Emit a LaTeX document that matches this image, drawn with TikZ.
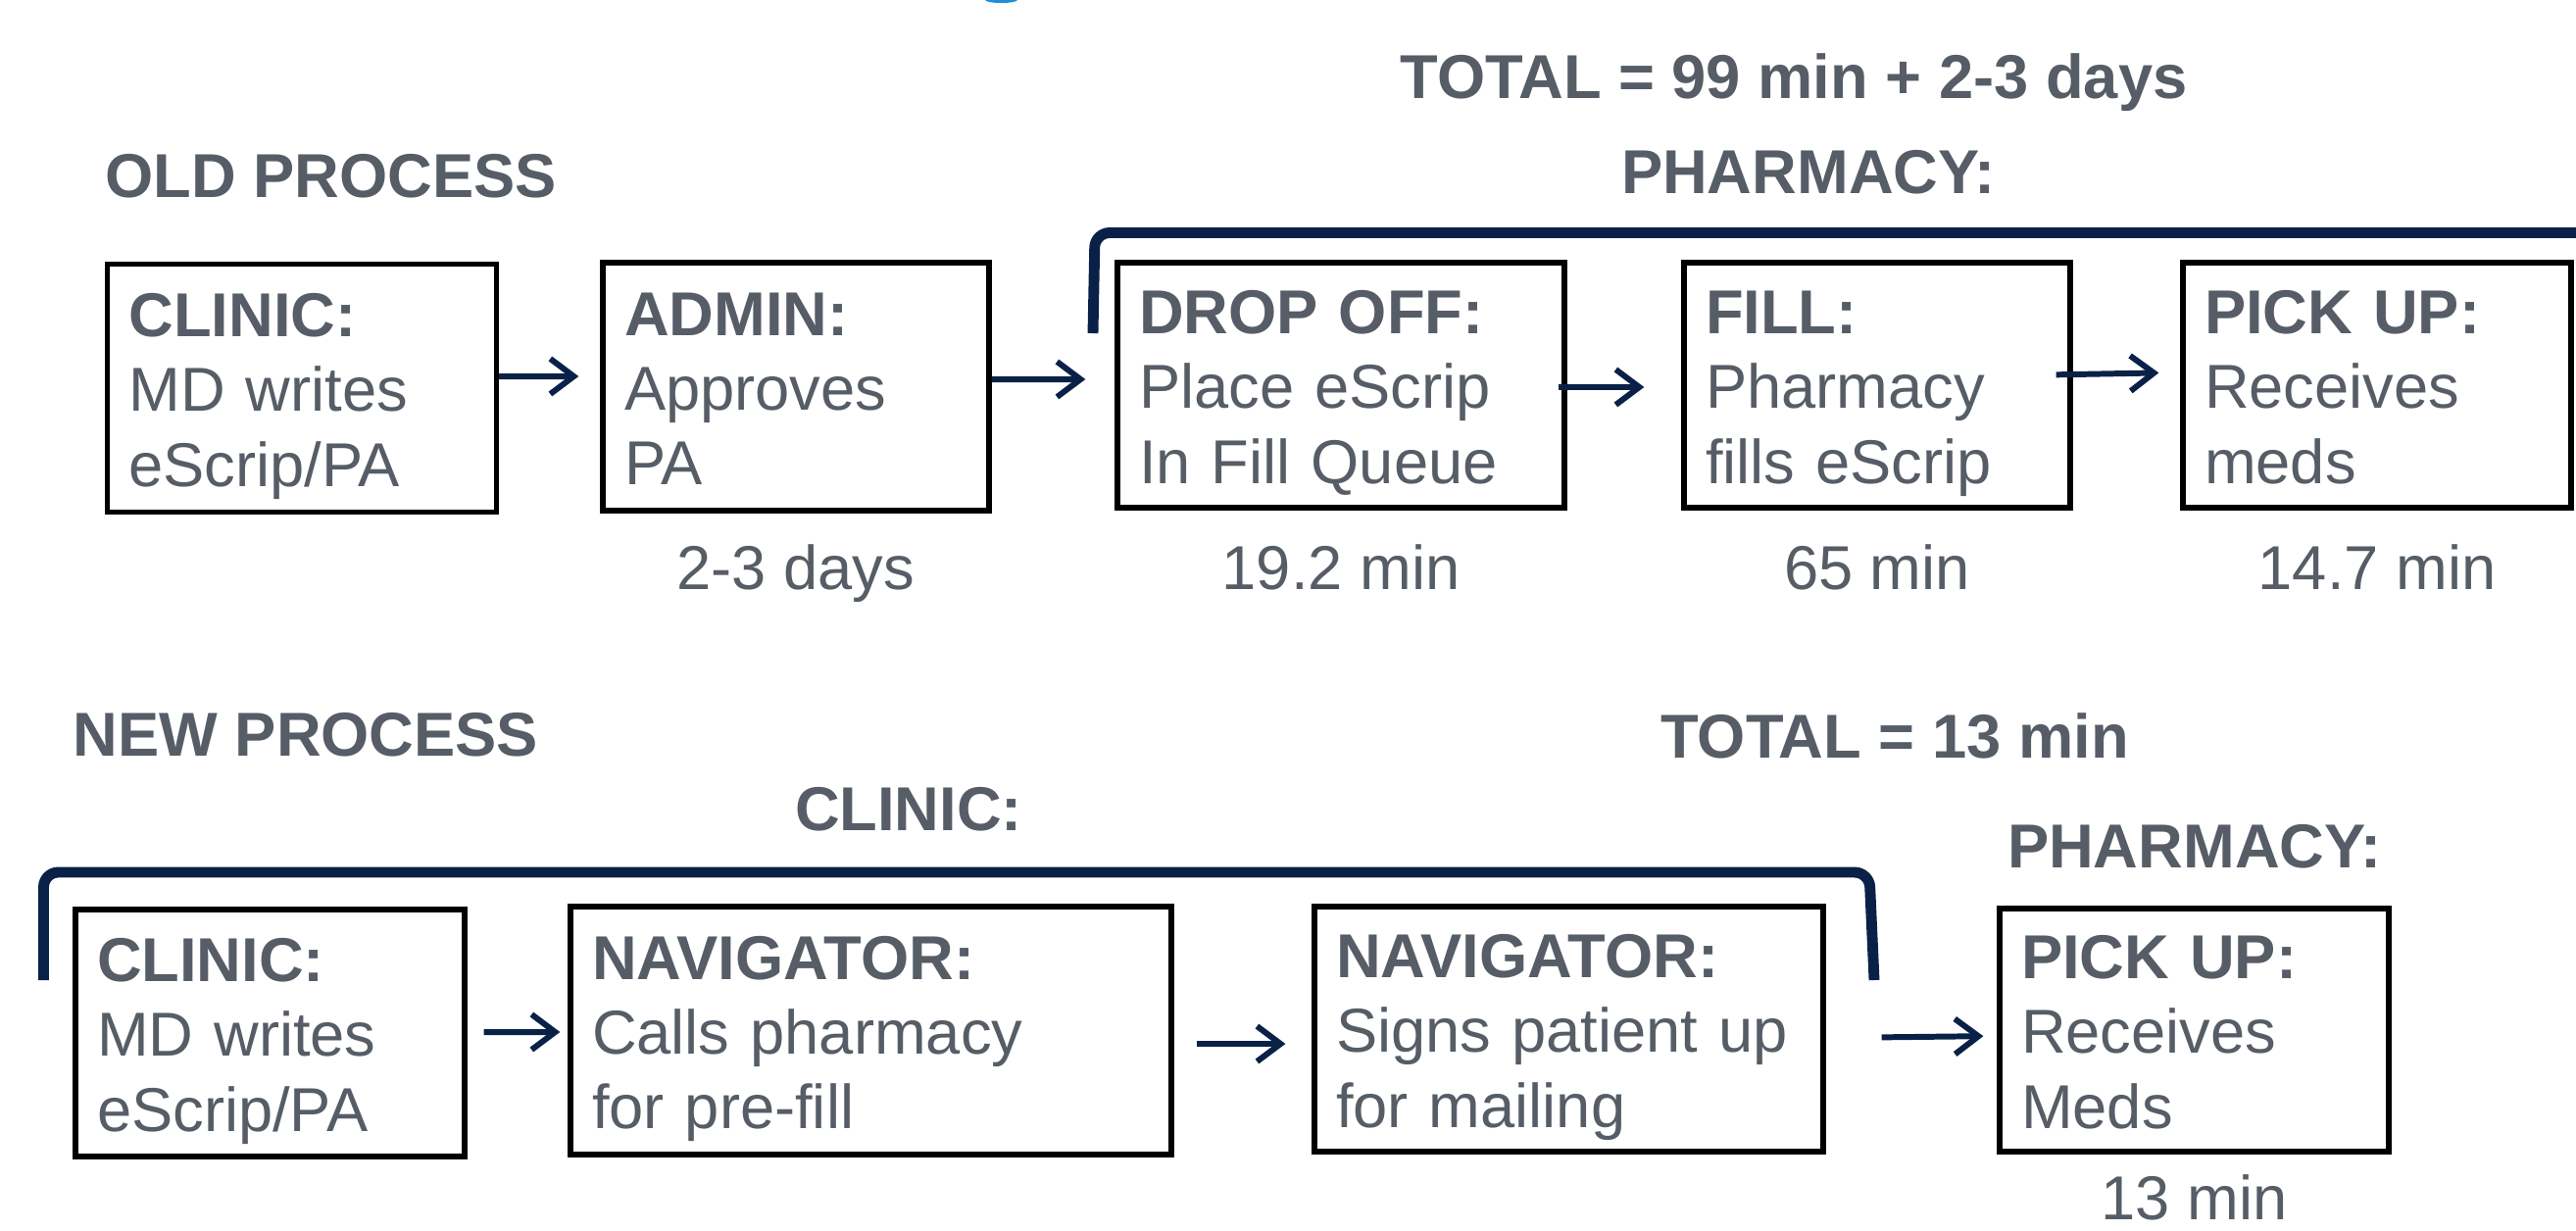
\documentclass[tikz,border=0pt]{standalone}
\usepackage{fontspec}
\setmainfont{Liberation Sans}
\usepackage{tikz}
\usetikzlibrary{arrows.meta,positioning}
\definecolor{slate}{RGB}{86,93,102}
\definecolor{navy}{RGB}{10,33,71}
\definecolor{logoblue}{RGB}{30,144,216}
\newcommand{\stagehead}[1]{\rule{0pt}{17.6pt}\textbf{#1}}
\tikzstyle{stage} = [draw=black, line width=1.5pt, text=slate, align=left, inner xsep=0.22cm, inner ysep=0pt, font=\fontsize{18}{21.7}\selectfont, execute at end node={\rule[-4pt]{0pt}{1pt}}]
\tikzstyle{flow} = [navy, line width=1.7pt, -{Straight Barb[length=2.4mm,width=3.6mm]}]
\tikzstyle{bracket} = [navy, line width=3.1pt, rounded corners=0.15cm]
\tikzstyle{heading} = [text=slate, font=\fontsize{18}{21.7}\selectfont\bfseries, inner sep=0pt]
\tikzstyle{timing} = [text=slate, font=\fontsize{18}{21.7}\selectfont, inner sep=0pt]

\begin{document}
\begin{tikzpicture}
        \useasboundingbox (0,0) rectangle (26.28,-12.55);
        \fill[logoblue] (10.05,0) arc[start angle=180, end angle=360, x radius=0.165, y radius=0.03];

        \node[heading, anchor=base] (oldtotal) at (18.30,-1.00) {TOTAL = 99 min + 2-3 days};
        \node[heading, anchor=base west] (oldtitle) at (1.07,-2.01) {OLD PROCESS};
        \node[heading, anchor=base] (oldpharm) at (18.45,-1.97) {PHARMACY:};
        \draw[bracket] (11.15,-3.40) -- (11.17,-2.375) -- (26.50,-2.375);

        \node[stage, text width=3.53cm, minimum height=2.53cm] (oclinic) at (3.08,-3.96) {\stagehead{CLINIC:}\\MD writes\\eScrip/PA};
        \node[stage, text width=3.50cm, minimum height=2.53cm] (oadmin) at (8.12,-3.945) {\stagehead{ADMIN:}\\Approves\\PA};
        \node[stage, text width=4.12cm, minimum height=2.50cm] (odrop) at (13.68,-3.93) {\stagehead{DROP OFF:}\\Place eScrip\\In Fill Queue};
        \node[stage, text width=3.50cm, minimum height=2.50cm] (ofill) at (19.15,-3.93) {\stagehead{FILL:}\\Pharmacy\\fills eScrip};
        \node[stage, text width=3.52cm, minimum height=2.50cm] (opick) at (24.25,-3.93) {\stagehead{PICK UP:}\\Receives\\meds};

        \node[timing, below=0.31cm of oadmin] (tadmin) {2-3 days};
        \node[timing, below=0.34cm of odrop] (tdrop) {19.2 min};
        \node[timing, below=0.34cm of ofill] (tfill) {65 min};
        \node[timing, below=0.34cm of opick] (tpick) {14.7 min};

        \draw[flow, shorten >=2.2mm] ([yshift=1.2mm]oclinic.east) -- ([yshift=1.05mm]oadmin.west);
        \draw[flow, shorten >=3mm] ([yshift=0.75mm]oadmin.east) -- ([yshift=0.6mm]odrop.west);
        \draw[flow, shorten <=-0.9mm, shorten >=3.8mm] ([yshift=-0.2mm]odrop.east) -- ([yshift=-0.2mm]ofill.west);
        \draw[flow, shorten <=-1.7mm, shorten >=2.2mm] ([yshift=1.1mm]ofill.east) -- ([yshift=1.3mm]opick.west);

        \node[heading, anchor=base west] (newtitle) at (0.74,-7.71) {NEW PROCESS};
        \node[heading, anchor=base] (newtotal) at (19.33,-7.73) {TOTAL = 13 min};
        \node[heading, anchor=base] (newclinic) at (9.27,-8.47) {CLINIC:};
        \node[heading, anchor=base] (newpharm) at (22.39,-8.85) {PHARMACY:};
        \draw[bracket] (0.445,-10.00) -- (0.445,-8.90) -- (19.07,-8.90) -- (19.12,-10.00);

        \node[stage, text width=3.53cm, minimum height=2.52cm] (nclinic) at (2.755,-10.54) {\stagehead{CLINIC:}\\MD writes\\eScrip/PA};
        \node[stage, text width=5.69cm, minimum height=2.53cm] (nnav1) at (8.885,-10.515) {\stagehead{NAVIGATOR:}\\Calls pharmacy\\for pre-fill};
        \node[stage, text width=4.75cm, minimum height=2.50cm] (nnav2) at (16.005,-10.50) {\stagehead{NAVIGATOR:}\\Signs patient up\\for mailing};
        \node[stage, text width=3.53cm, minimum height=2.48cm] (npick) at (22.385,-10.51) {\stagehead{PICK UP:}\\Receives\\Meds};

        \node[timing, below=0.2cm of npick] (tnpick) {13 min};

        \draw[flow, shorten <=1.7mm, shorten >=0.8mm] ([yshift=0.1mm]nclinic.east) -- ([yshift=-0.15mm]nnav1.west);
        \draw[flow, shorten <=2.3mm, shorten >=2.7mm] ([yshift=-1.35mm]nnav1.east) -- ([yshift=-1.5mm]nnav2.west);
        \draw[flow, shorten <=5.7mm, shorten >=1.4mm] ([yshift=-0.9mm]nnav2.east) -- ([yshift=-0.6mm]npick.west);
\end{tikzpicture}
\end{document}
